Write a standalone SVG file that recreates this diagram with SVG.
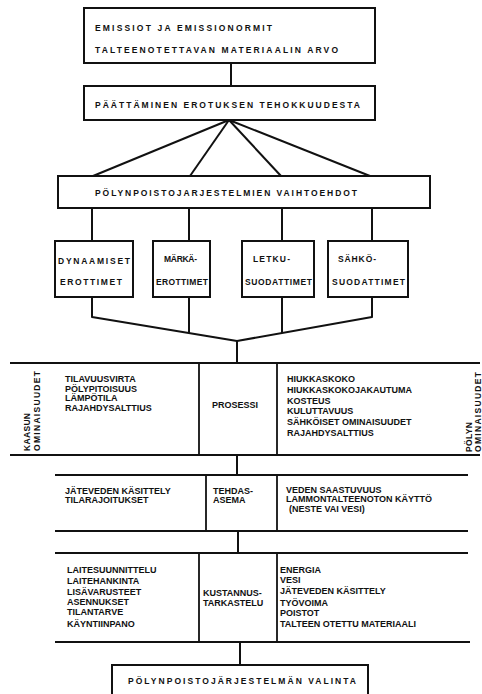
<svg xmlns="http://www.w3.org/2000/svg" width="482" height="694" viewBox="0 0 482 694">
<style>
  .bx { fill: #fff; stroke: #111; stroke-width: 2; }
  .ln { stroke: #111; stroke-width: 2; fill: none; stroke-linejoin: round; }
  .rule { stroke: #111; stroke-width: 1.8; fill: none; }
  text { font-family: "Liberation Sans", Arial, sans-serif; font-weight: bold; fill: #111; text-transform: uppercase !important; font-variant: normal !important; }
  .t1 { font-size: 8.5px; }
  .t2 { font-size: 8.5px; }
  .tb { font-size: 9px; }
  .rot { font-size: 8.5px; }
</style>
<rect width="482" height="694" fill="#fff"/>

<g id="connectors">
  <line class="ln" x1="231" y1="63" x2="231" y2="86"/>
  <line class="ln" x1="229" y1="120" x2="93" y2="176"/>
  <line class="ln" x1="229" y1="120" x2="190" y2="176"/>
  <line class="ln" x1="229" y1="120" x2="281" y2="176"/>
  <line class="ln" x1="229" y1="120" x2="370" y2="176"/>
  <line class="ln" x1="92" y1="208" x2="92" y2="241"/>
  <line class="ln" x1="189" y1="208" x2="189" y2="241"/>
  <line class="ln" x1="282" y1="208" x2="282" y2="241"/>
  <line class="ln" x1="372" y1="208" x2="372" y2="241"/>
  <polyline class="ln" points="92,297 92,317 237,341 372,317 372,297"/>
  <line class="ln" x1="189" y1="297" x2="189" y2="333"/>
  <line class="ln" x1="282" y1="297" x2="282" y2="333"/>
  <line class="ln" x1="237" y1="341" x2="237" y2="363"/>
  <line class="ln" x1="237" y1="455" x2="237" y2="475"/>
  <line class="ln" x1="238" y1="531" x2="238" y2="553"/>
  <line class="ln" x1="240" y1="642" x2="240" y2="665"/>
</g>

<g id="emissiot">
  <rect class="bx" x="84" y="8" width="291" height="55"/>
  <text class="t1" x="95" y="31" textLength="177" lengthAdjust="spacing">EMISSIOT JA EMISSIONORMIT</text>
  <text class="t1" x="95" y="53" textLength="243" lengthAdjust="spacing">TALTEENOTETTAVAN MATERIAALIN ARVO</text>
</g>

<g id="paattaminen">
  <rect class="bx" x="84" y="86" width="291" height="34"/>
  <text class="t1" x="95" y="108" textLength="265" lengthAdjust="spacing">PÄÄTTÄMINEN EROTUKSEN TEHOKKUUDESTA</text>
</g>

<g id="vaihtoehdot">
  <rect class="bx" x="58" y="176" width="372" height="32"/>
  <text class="t1" x="95" y="196" textLength="262" lengthAdjust="spacing">PÖLYNPOISTOJARJESTELMIEN VAIHTOEHDOT</text>
</g>

<g id="dynaamiset">
  <rect class="bx" x="55" y="241" width="78" height="56"/>
  <text class="t2" x="58" y="264" textLength="72" lengthAdjust="spacing">DYNAAMISET</text>
  <text class="t2" x="60" y="285" textLength="62" lengthAdjust="spacing">EROTTIMET</text>
</g>

<g id="marka">
  <rect class="bx" x="153" y="241" width="57" height="56"/>
  <text class="t2" x="164" y="262" textLength="33" lengthAdjust="spacing">MÄRKÄ-</text>
  <text class="t2" x="156" y="285" textLength="52" lengthAdjust="spacing">EROTTIMET</text>
</g>

<g id="letku">
  <rect class="bx" x="242" y="241" width="72" height="56"/>
  <text class="t2" x="253" y="262" textLength="37" lengthAdjust="spacing">LETKU-</text>
  <text class="t2" x="245" y="285" textLength="67" lengthAdjust="spacing">SUODATTIMET</text>
</g>

<g id="sahko">
  <rect class="bx" x="328" y="241" width="80" height="56"/>
  <text class="t2" x="338" y="262" textLength="38" lengthAdjust="spacing">SÄHKÖ-</text>
  <text class="t2" x="332" y="285" textLength="73" lengthAdjust="spacing">SUODATTIMET</text>
</g>

<g id="prosessi">
  <line class="rule" x1="10" y1="363" x2="480" y2="363"/>
  <line class="rule" x1="10" y1="455" x2="480" y2="455"/>
  <line class="rule" x1="199" y1="363" x2="199" y2="455"/>
  <line class="rule" x1="277" y1="363" x2="277" y2="455"/>
  <text class="rot" transform="translate(30,451) rotate(-90)" textLength="38" lengthAdjust="spacing">KAASUN</text>
  <text class="rot" transform="translate(40,451) rotate(-90)" textLength="80" lengthAdjust="spacing">OMINAISUUDET</text>
  <text class="tb" x="65" y="382">TILAVUUSVIRTA</text>
  <text class="tb" x="65" y="391.5">PÖLYPITOISUUS</text>
  <text class="tb" x="65" y="401">LÄMPÖTILA</text>
  <text class="tb" x="65" y="410.5">RAJAHDYSALTTIUS</text>
  <text class="tb" x="212" y="408">PROSESSI</text>
  <text class="tb" x="287" y="382">HIUKKASKOKO</text>
  <text class="tb" x="287" y="393">HIUKKASKOKOJAKAUTUMA</text>
  <text class="tb" x="287" y="403.5">KOSTEUS</text>
  <text class="tb" x="287" y="414">KULUTTAVUUS</text>
  <text class="tb" x="287" y="425">SÄHKÖISET OMINAISUUDET</text>
  <text class="tb" x="287" y="436">RAJAHDYSALTTIUS</text>
  <text class="rot" transform="translate(472,452) rotate(-90)" textLength="30" lengthAdjust="spacing">PÖLYN</text>
  <text class="rot" transform="translate(481,452) rotate(-90)" textLength="80" lengthAdjust="spacing">OMINAISUUDET</text>
</g>

<g id="tehdasasema">
  <line class="rule" x1="55" y1="475" x2="468" y2="475"/>
  <line class="rule" x1="55" y1="531" x2="468" y2="531"/>
  <line class="rule" x1="206" y1="475" x2="206" y2="531"/>
  <line class="rule" x1="277" y1="475" x2="277" y2="531"/>
  <text class="tb" x="65" y="494">JÄTEVEDEN KÄSITTELY</text>
  <text class="tb" x="65" y="503">TILARAJOITUKSET</text>
  <text class="tb" x="213" y="494">TEHDAS-</text>
  <text class="tb" x="213" y="503">ASEMA</text>
  <text class="tb" x="286" y="493">VEDEN SAASTUVUUS</text>
  <text class="tb" x="286" y="502">LAMMONTALTEENOTON KÄYTTÖ</text>
  <text class="tb" x="289" y="512">(NESTE VAI VESI)</text>
</g>

<g id="kustannustarkastelu">
  <line class="rule" x1="55" y1="553" x2="468" y2="553"/>
  <line class="rule" x1="55" y1="642" x2="470" y2="642"/>
  <line class="rule" x1="199" y1="553" x2="199" y2="642"/>
  <line class="rule" x1="277" y1="553" x2="277" y2="642"/>
  <text class="tb" x="67" y="573">LAITESUUNNITTELU</text>
  <text class="tb" x="67" y="584">LAITEHANKINTA</text>
  <text class="tb" x="67" y="595">LISÄVARUSTEET</text>
  <text class="tb" x="67" y="605">ASENNUKSET</text>
  <text class="tb" x="67" y="615">TILANTARVE</text>
  <text class="tb" x="67" y="627">KÄYNTIINPANO</text>
  <text class="tb" x="203" y="596">KUSTANNUS-</text>
  <text class="tb" x="203" y="606">TARKASTELU</text>
  <text class="tb" x="280" y="573">ENERGIA</text>
  <text class="tb" x="280" y="583">VESI</text>
  <text class="tb" x="280" y="594">JÄTEVEDEN KÄSITTELY</text>
  <text class="tb" x="280" y="606">TYÖVOIMA</text>
  <text class="tb" x="280" y="616">POISTOT</text>
  <text class="tb" x="280" y="627">TALTEEN OTETTU MATERIAALI</text>
</g>

<g id="valinta">
  <rect class="bx" x="112" y="665" width="256" height="40"/>
  <text class="t1" x="128" y="684" textLength="228" lengthAdjust="spacing">PÖLYNPOISTOJÄRJESTELMÄN VALINTA</text>
</g>
</svg>
